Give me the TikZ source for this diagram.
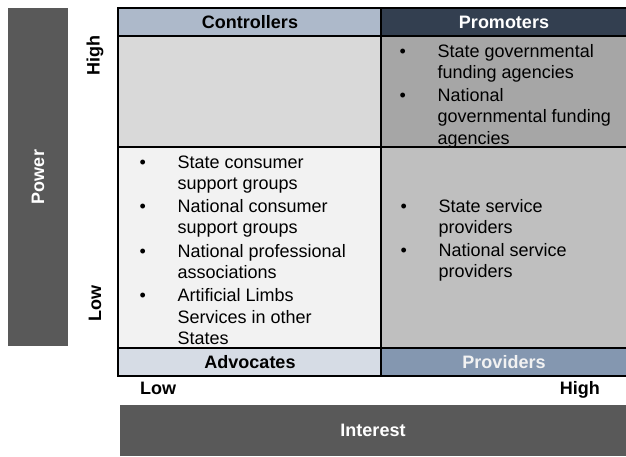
\documentclass[tikz,border=0pt]{standalone}
\usepackage{fontspec}
\setmainfont{Liberation Sans}
\usepackage{array}
\definecolor{ctrlH}{HTML}{ADB9CA}
\definecolor{promH}{HTML}{333F50}
\definecolor{cA}{HTML}{D9D9D9}
\definecolor{cB}{HTML}{A6A6A6}
\definecolor{cC}{HTML}{F2F2F2}
\definecolor{cD}{HTML}{BFBFBF}
\definecolor{advH}{HTML}{D6DCE5}
\definecolor{provH}{HTML}{8497B0}
\definecolor{barC}{HTML}{595959}
\begin{document}
\begin{tikzpicture}[x=1pt,y=-1pt,
  hdr/.style={inner sep=0, font=\fontsize{18}{21}\selectfont\bfseries},
  lst/.style={anchor=base west, inner sep=0, font=\fontsize{18}{21.3}\selectfont},
  grid/.style={line width=2.6pt, black}]
\useasboundingbox (0,0) rectangle (626,456);
% side bars
\fill[barC] (8,8) rectangle (68,346);
\fill[barC] (120,405) rectangle (626,456);
\node[hdr, text=white, rotate=90] (power) at (38,177) {Power};
\node[hdr, text=white] (interest) at (373,430) {Interest};
% cell fills
\fill[ctrlH] (118,8) rectangle (381,36);
\fill[promH] (381,8) rectangle (632,36);
\fill[cA] (118,36) rectangle (381,147);
\fill[cB] (381,36) rectangle (632,147);
\fill[cC] (118,147) rectangle (381,348);
\fill[cD] (381,147) rectangle (632,348);
\fill[advH] (118,348) rectangle (381,376);
\fill[provH] (381,348) rectangle (632,376);
% grid lines
\draw[grid] (118,8) rectangle (632,376);
\draw[grid] (381,8) -- (381,376);
\draw[grid] (118,36) -- (632,36);
\draw[grid] (118,147) -- (632,147);
\draw[grid] (118,348) -- (632,348);
% headers
\node[hdr] (ctrl) at (250,22) {Controllers};
\node[hdr, text=white] (prom) at (504,22) {Promoters};
\node[hdr] (adv) at (250,362) {Advocates};
\node[hdr, text=cC] (prov) at (504,362) {Providers};
% axis labels
\node[hdr, rotate=90] (phigh) at (95,55) {High};
\node[hdr, rotate=90] (plow) at (95,303) {Low};
\node[hdr, anchor=base west] (ilow) at (140,394) {Low};
\node[hdr, anchor=base east] (ihigh) at (600,394) {High};
% lists
\node[lst] (listB) at (399.5,57) {\begin{tabular}[t]{@{}p{38pt}@{}l@{}}
\textbullet & State governmental\\
 & funding agencies\\[2pt]
\textbullet & National\\
 & governmental funding\\
 & agencies
\end{tabular}};
\node[lst] (listC) at (139.5,168) {\begin{tabular}[t]{@{}p{38pt}@{}l@{}}
\textbullet & State consumer\\
 & support groups\\[2pt]
\textbullet & National consumer\\
 & support groups\\[2pt]
\textbullet & National professional\\
 & associations\\[2pt]
\textbullet & Artificial Limbs\\
 & Services in other\\
 & States
\end{tabular}};
\node[lst] (listD) at (400.5,212) {\begin{tabular}[t]{@{}p{38pt}@{}l@{}}
\textbullet & State service\\
 & providers\\[2pt]
\textbullet & National service\\
 & providers
\end{tabular}};
\end{tikzpicture}
\end{document}
